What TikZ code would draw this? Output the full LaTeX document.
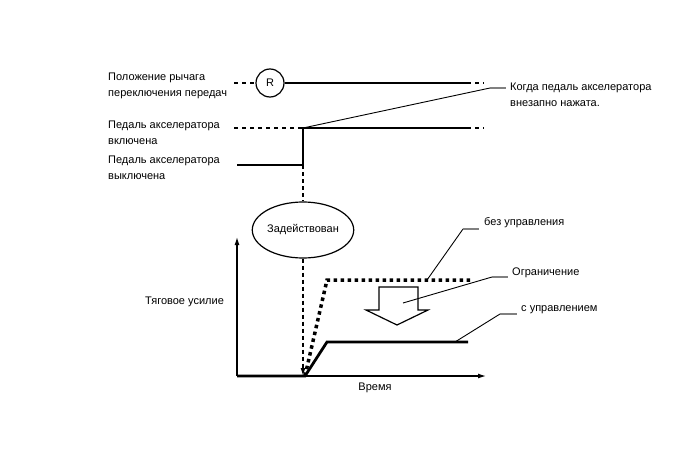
\documentclass[tikz,border=0pt]{standalone}
\usepackage{fontspec}
\setmainfont{Liberation Sans}
\usetikzlibrary{arrows.meta,shapes.geometric}
\begin{document}
\begin{tikzpicture}[x=1pt,y=-1pt,
  lbl/.style={font=\fontsize{11}{15.5}\selectfont,anchor=west,align=left,inner sep=0pt},
  thick line/.style={line width=2.8pt},
  dashline/.style={line width=1.2pt,dash pattern=on 4pt off 4pt},
  leader/.style={line width=0.9pt},
  stub/.style={line width=1.5pt,gray},
  ax/.style={line width=1.2pt,-{Latex[length=8pt,width=5pt]}}]
\useasboundingbox (0,0) rectangle (688,463);
\fill[white] (0,0) rectangle (688,463);
% labels left
\node[lbl] (l1) at (108,86) {Положение рычага\\переключения передач};
\node[lbl] (l2) at (108,133) {Педаль акселератора\\включена};
\node[lbl] (l3) at (108,168) {Педаль акселератора\\выключена};
\node[lbl] (l4) at (145,302) {Тяговое усилие};
% shift row
\node[circle,draw,line width=1.2pt,minimum size=28pt,inner sep=0pt,font=\fontsize{11}{12}\selectfont] (R) at (270,83) {R};
\coordinate (s0) at (234,83);
\coordinate (s1) at (467,83);
\coordinate (s2) at (484,83);
\draw[dashline] (s0) -- (R.west);
\draw[thick line] (R.east) -- (s1);
\draw[dashline] (s1) -- (s2);
% accelerator
\coordinate (a0) at (234,128);
\coordinate (a1) at (303,128);
\coordinate (a2) at (467,128);
\coordinate (a3) at (484,128);
\coordinate (b0) at (237,165);
\coordinate (b1) at (303,165);
\draw[dashline] (a0) -- (a1);
\draw[thick line] (a2) -- (a1) -- (b1) -- (b0);
\draw[dashline] (a2) -- (a3);
% callout
\coordinate (c0) at (490,88);
\coordinate (c1) at (506,88);
\draw[leader] (a1) -- (c0);
\draw[stub] (c0) -- (c1);
\node[lbl] (ct) at (510,95) {Когда педаль акселератора\\внезапно нажата.};
% ellipse
\node[ellipse,draw,line width=1.2pt,minimum width=74pt,minimum height=56pt,inner sep=0pt,font=\fontsize{11}{12}\selectfont] (E) at (303,230) {Задействован};
\coordinate (o) at (303,376);
\draw[line width=1.2pt,dash pattern=on 4pt off 3pt] (b1) -- (E.north);
\draw[line width=1.2pt,dash pattern=on 4pt off 3pt,-{Latex[length=8pt,width=5pt]}] (E.south) -- (o);
% axes
\coordinate (O) at (237,376);
\coordinate (Y) at (237,237);
\coordinate (X) at (486,376);
\draw[ax] (O) -- (Y);
\draw[ax] (O) -- (X);
\node[font=\fontsize{11}{12}\selectfont,inner sep=0pt] (t) at (375,388) {Время};
% curves
\coordinate (p0) at (305,376);
\coordinate (u1) at (327,280);
\coordinate (u2) at (472,280);
\coordinate (w1) at (327,342);
\coordinate (w2) at (468,342);
\draw[line width=3.5pt,dash pattern=on 3.5pt off 3.5pt] (p0) -- (u1) -- (u2);
\draw[thick line] (O) -- (p0) -- (w1) -- (w2);
% hollow arrow
\draw[line width=1.2pt,fill=white] (379,287) -- (418,287) -- (418,310) -- (428,310) -- (397,325) -- (366,310) -- (379,310) -- cycle;
\coordinate (ar) at (403,303);
% leaders
\coordinate (d0) at (427,280);
\coordinate (d1) at (463,229);
\coordinate (d2) at (479,229);
\draw[leader] (d0) -- (d1);
\draw[stub] (d1) -- (d2);
\node[lbl] (dt) at (484,223) {без управления};
\coordinate (e1) at (492,277);
\coordinate (e2) at (508,277);
\draw[leader] (ar) -- (e1);
\draw[stub] (e1) -- (e2);
\node[lbl] (et) at (512,273) {Ограничение};
\coordinate (f0) at (455,342);
\coordinate (f1) at (500,314);
\coordinate (f2) at (517,314);
\draw[leader] (f0) -- (f1);
\draw[stub] (f1) -- (f2);
\node[lbl] (ft) at (521,310) {с управлением};
\end{tikzpicture}
\end{document}
